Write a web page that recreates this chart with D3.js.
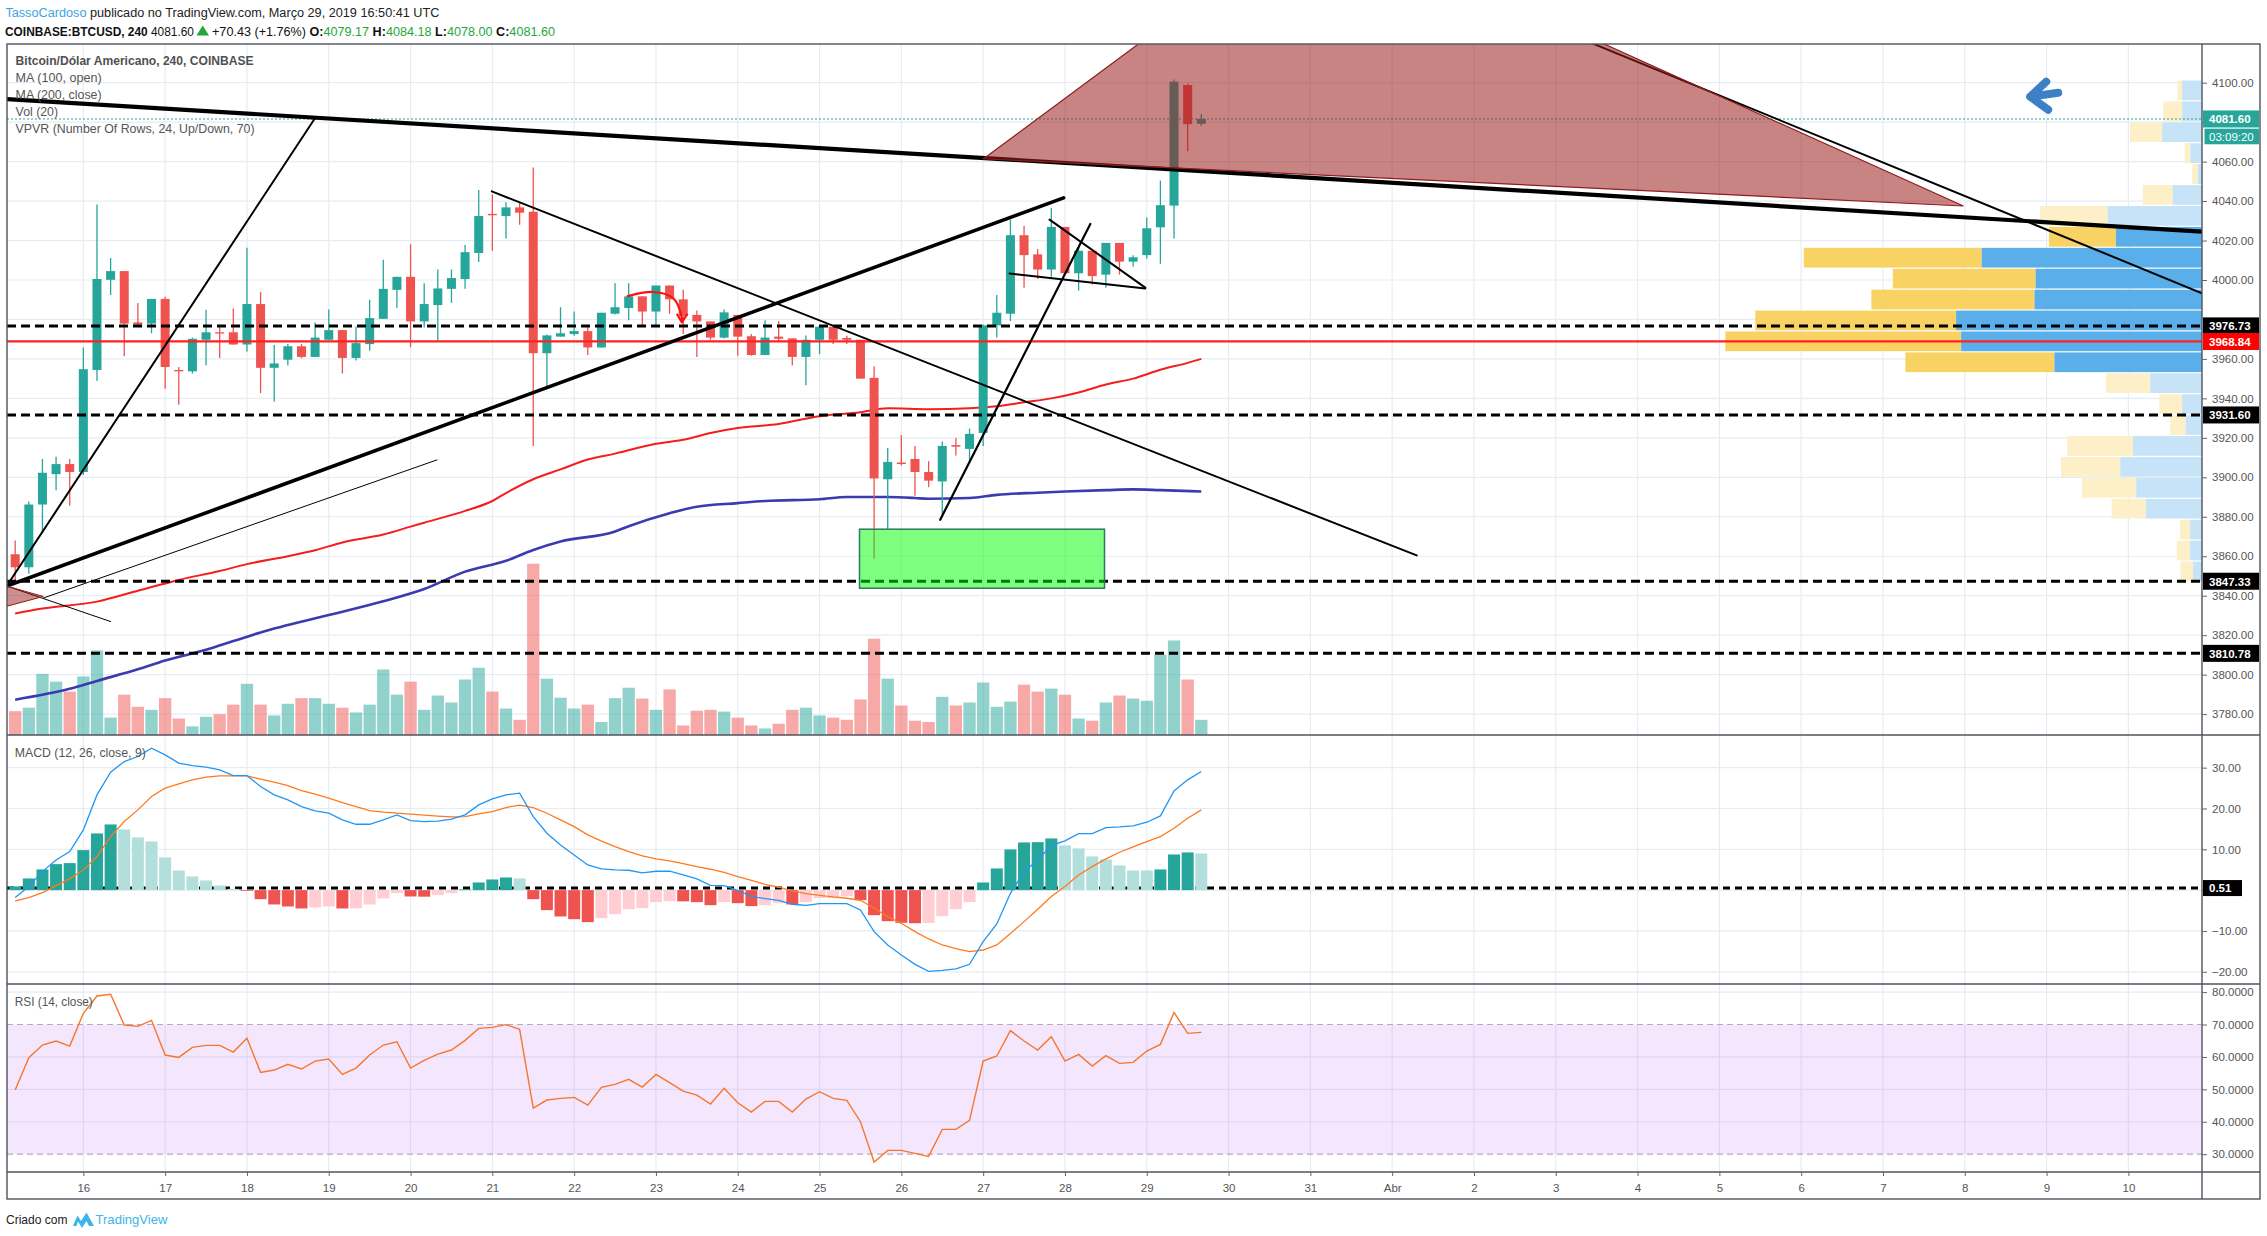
<!DOCTYPE html>
<html><head><meta charset="utf-8">
<script src="https://cdn.jsdelivr.net/npm/d3@7/dist/d3.min.js"></script>
<style>
html,body{margin:0;padding:0;background:#fff;overflow:hidden;}
svg{display:block;}
text{font-family:"Liberation Sans Narrow","Liberation Sans",Arial,sans-serif;}
.ax text{font-family:"Liberation Sans",Arial,sans-serif;}
</style></head><body>
<svg id="chart" width="2267" height="1236"></svg>
<script>
// ---------------- DATA ----------------
const candleOpen = [3861.0,3854.4,3886.2,3901.6,3906.7,3902.7,3954.4,4000.1,4004.5,3978.5,
3977.9,3990.4,3954.4,3953.7,3969.7,3973.5,3973.5,3967.3,3987.8,3955.5,
3959.6,3966.4,3961.0,3969.7,3974.6,3960.5,3967.5,3980.3,3995.0,4001.6,
3979.0,3987.3,3995.5,4000.5,4013.7,4033.5,4032.4,4036.8,4034.6,3962.9,
3971.3,3972.6,3974.1,3965.8,3982.9,3985.8,3991.7,3984.0,3997.2,3990.2,
3982.3,3979.0,3970.8,3982.3,3971.5,3962.0,3971.3,3970.4,3961.0,3969.7,
3976.3,3970.6,3969.7,3950.4,3899.0,3907.5,3909.3,3902.7,3897.9,3916.3,
3914.4,3922.5,3977.0,3982.9,4022.7,4013.0,4005.3,4026.9,4003.4,4014.8,
4002.7,4018.8,4009.3,4012.6,4026.7,4037.7,4098.8,4079.17];
const candleHigh = [3868.0,3887.8,3909.3,3910.4,3909.3,3965.8,4038.3,4011.1,4004.5,3988.4,
3990.4,3991.5,3955.9,3970.8,3984.9,3977.0,3985.6,4016.3,3993.9,3967.1,
3967.5,3967.5,3978.5,3985.1,3974.6,3976.3,3990.0,4010.2,4001.6,4018.1,
3998.3,4005.3,4005.3,4017.7,4045.6,4043.4,4039.4,4039.0,4057.0,3972.4,
3986.2,3984.0,3976.3,3983.4,3998.3,3998.3,3991.7,3997.2,3997.2,3995.0,
3984.5,3979.0,3985.1,3982.3,3972.6,3979.6,3979.2,3970.4,3971.9,3976.3,
3977.0,3971.7,3969.7,3956.3,3914.8,3921.4,3915.9,3908.2,3918.1,3919.9,
3924.7,3977.4,3992.4,4030.6,4027.3,4015.7,4036.6,4026.9,4017.0,4014.8,
4018.8,4018.8,4012.6,4031.7,4050.4,4101.6,4099.4,4084.18];
const candleLow = [3847.8,3851.1,3871.9,3893.5,3885.6,3901.2,3948.9,3992.4,3961.4,3977.0,
3973.0,3944.9,3936.8,3952.6,3956.6,3960.5,3967.3,3963.8,3942.7,3938.3,
3956.6,3960.3,3961.0,3969.7,3952.6,3959.2,3964.2,3980.3,3985.8,3966.0,
3975.9,3969.1,3988.4,3995.5,4009.1,4014.8,4021.0,4028.0,3915.9,3946.2,
3971.3,3971.7,3962.0,3965.8,3982.5,3979.6,3976.3,3977.0,3982.9,3972.6,
3961.0,3969.7,3970.4,3961.6,3961.6,3962.0,3969.1,3956.6,3946.7,3962.5,
3967.5,3967.5,3950.0,3858.8,3873.5,3906.0,3890.6,3895.0,3881.2,3911.1,
3908.2,3915.9,3970.8,3979.2,3996.1,4000.5,4001.6,4002.7,3994.6,3997.7,
3996.1,4002.7,4006.7,4010.8,4008.2,4021.0,4065.3,4078.00];
const candleClose = [3854.4,3886.2,3902.3,3906.7,3902.7,3954.8,4000.5,4004.5,3977.9,3977.4,
3990.4,3955.9,3953.7,3970.2,3973.5,3973.0,3967.3,3987.8,3955.5,3957.7,
3966.4,3961.0,3970.8,3974.6,3960.5,3968.0,3980.7,3995.5,4001.6,3979.0,
3987.8,3995.7,4001.0,4014.1,4032.4,4032.8,4036.8,4034.1,3962.9,3971.9,
3973.0,3974.1,3965.8,3983.4,3986.2,3991.7,3984.0,3997.2,3990.2,3981.8,
3979.0,3970.8,3983.6,3971.3,3962.0,3970.8,3970.2,3961.0,3969.7,3976.3,
3969.7,3969.7,3950.0,3899.4,3907.8,3906.7,3902.7,3898.3,3915.9,3915.5,
3922.0,3977.0,3983.4,4022.7,4012.6,4005.3,4026.9,4003.4,4014.8,4002.0,
4018.8,4009.3,4011.5,4026.2,4037.9,4100.5,4079.0,4081.60];
const volume = [550,630,1410,1230,1000,1350,1950,400,930,650,
580,850,380,200,420,480,700,1180,700,450,
720,850,850,720,630,520,700,1510,930,1230,
580,910,750,1280,1550,1000,610,350,3950,1300,
860,610,700,300,850,1090,840,580,1050,220,
560,580,540,400,220,150,260,580,630,450,
400,350,820,2220,1300,680,330,300,880,680,
750,1210,650,770,1160,1000,1070,930,380,330,
750,910,840,790,1850,2180,1280,350];

const ma100Idx = [0,2,6,9,12,15,17,20,22,24,27,29,30,33,35,36,38,40,42,44,47,49,51,53,56,59,62,64,67,70,72,74,76,78,80,82,84,86,87];
const ma100Val = [3831,3833.5,3837,3842.5,3848,3852.5,3856,3860,3863,3867,3871,3875,3877,3883,3888,3892,3899,3904,3909,3912,3917,3919,3922.5,3925,3927,3931,3933,3935,3934.5,3935,3936,3938,3940,3943,3947,3950,3954.5,3958,3960];
const ma200Idx = [0,4,6,9,11,14,16,18,23,27,30,33,36,38,40,44,45,48,50,53,55,59,61,64,66,67,70,72,75,77,80,82,84,87];
const ma200Val = [3787.3,3792.8,3796.8,3802.7,3807.1,3812.6,3817.0,3821.4,3830.2,3837.2,3843.4,3852.2,3857.7,3863.2,3867.5,3872.5,3875.2,3881.8,3885.1,3886.9,3888.0,3888.9,3890.0,3890.0,3889.5,3889.1,3889.5,3891.1,3892.2,3892.8,3893.5,3893.9,3893.5,3892.8];

const macdLine = [-1.83,0.87,4.54,7.40,9.45,14.76,23.33,28.89,31.5,32.73,
34.77,33.14,31.1,30.52,30.12,29.46,28.07,28.07,25.38,23.33,
22.11,20.47,19.41,18.84,17.21,16.14,16.14,17.21,18.43,17.04,
16.8,16.88,17.37,18.43,20.88,22.35,23.33,23.74,18.02,13.94,
11.08,8.63,6.18,5.2,4.95,4.87,4.22,4.63,4.63,3.73,
2.75,1.19,1.11,-0.03,-1.58,-2.07,-2.48,-3.46,-3.71,-3.3,
-3.3,-3.3,-4.85,-10.16,-13.43,-15.88,-18.17,-19.88,-19.64,-19.31,
-18.17,-12.61,-8.28,-0.77,4.54,7.40,10.92,12.06,13.86,13.86,
15.33,15.49,15.74,16.63,18.19,24.31,27.01,29.05];
const signalLine = [-2.65,-1.83,-0.6,1.11,2.75,4.95,8.22,13.12,16.8,19.66,
22.93,24.97,26.03,27.01,27.66,27.99,27.99,27.99,27.17,26.44,
25.62,24.40,23.5,22.52,21.46,20.47,19.49,19.09,18.84,18.6,
18.35,18.11,17.94,18.02,18.68,19.25,20.23,20.8,20.23,18.84,
17.21,15.57,13.53,12.0,10.67,9.45,8.38,7.65,7.16,6.5,
5.77,5.12,4.38,3.32,2.42,1.44,0.71,-0.2,-0.85,-1.26,
-1.67,-1.99,-2.48,-4.44,-6.49,-8.12,-10.16,-11.96,-13.43,-14.33,
-15.06,-14.66,-13.43,-10.65,-7.71,-4.69,-1.58,0.87,3.73,5.77,
7.65,9.28,10.59,11.9,13.12,15.16,17.61,19.66];
const macdHist = [0.9,2.86,5.07,6.37,6.62,9.80,13.89,16.09,14.87,12.91,
11.93,8.01,4.82,3.35,2.37,1.14,0.3,-0.2,-2.21,-3.51,
-4.0,-4.49,-4.25,-4.0,-4.49,-4.45,-3.51,-2.04,-0.74,-1.55,
-1.6,-1.23,-0.74,0.2,1.88,2.61,3.10,2.86,-2.21,-4.90,
-6.45,-7.11,-7.84,-6.86,-5.88,-4.66,-4.41,-2.94,-2.70,-2.75,
-2.94,-3.68,-2.94,-3.19,-3.92,-3.68,-3.19,-3.51,-2.94,-1.96,
-1.96,-1.47,-2.45,-6.13,-7.60,-8.0,-8.1,-8.05,-6.37,-4.66,
-2.94,1.88,5.31,9.97,11.68,11.75,12.66,10.95,10.21,8.25,
7.52,6.05,4.82,4.82,5.07,8.74,9.23,8.99];
const rsiLine = [49.8,59.76,63.67,64.9,63.36,73.45,78.8,79.31,69.84,69.43,
71.28,60.58,59.86,62.95,63.57,63.57,61.51,65.73,55.24,55.96,
57.71,56.27,58.73,59.35,54.62,56.57,60.58,63.67,64.7,56.57,
58.94,60.89,62.13,65.11,68.81,69.12,69.95,68.51,44.23,46.7,
47.21,47.52,45.15,50.6,51.53,53.08,50.71,54.62,52.05,49.47,
48.24,45.46,50.3,45.87,42.99,46.28,46.28,42.99,47.0,49.27,
47.21,46.59,40.01,27.56,31.16,31.16,30.24,29.31,37.64,37.64,
40.42,58.73,60.28,68.1,64.9,62.13,66.24,58.73,60.79,57.19,
60.38,58.01,58.32,61.82,63.87,73.75,67.27,67.58];

// Volume profile (rows from top price down), up / down volume
const vpUp   = [199,199,398,116,40,293,944,861,2203,1664,1675,2459,2409,1476,517,199,163,691,817,658,561,119,119,90];
const vpDown = [47,188,322,58,58,300,676,669,1779,1428,1631,2008,2358,1490,445,228,155,658,593,543,343,102,134,127];
const vpValueArea = [0,0,0,0,0,0,0,1,1,1,1,1,1,1,0,0,0,0,0,0,0,0,0,0];
const vpHigh = 4101.4, vpLow = 3847.0;

const priceTicks = [3780,3800,3820,3840,3860,3880,3900,3920,3940,3960,3980,4000,4020,4040,4060,4080,4100];
const macdTicks = [-20,-10,0,10,20,30];
const rsiTicks = [30,40,50,60,70,80];
const dayLabels = ["16","17","18","19","20","21","22","23","24","25","26","27","28","29","30","31","Abr","2","3","4","5","6","7","8","9","10"];
const firstDayCandle = 5, candlesPerDay = 6;

const hLevels = [3976.73, 3931.60, 3847.33, 3810.78];
const pocPrice = 3968.84;
const lastPrice = 4081.60;
const macdLevel = 0.51;

// user drawings: [candle index, price]
const trendLines = [
  {a:[-0.62,4091.7], b:[160.4,4024.5], w:4.2},
  {a:[-0.62,3844.9], b:[22.0,4082.1], w:2},
  {a:[-0.62,3844.9], b:[76.9,4041.6], w:3.6},
  {a:[2.06,3838.8],  b:[30.93,3908.8], w:1},
  {a:[-0.62,3844.9], b:[7.0,3826.9], w:1},
  {a:[34.96,4044.9], b:[102.8,3860.4], w:2},
  {a:[67.85,3878.5], b:[78.86,4028.4], w:2.2},
  {a:[75.87,4030.6], b:[82.89,3996.1], w:2},
  {a:[72.94,4003.3], b:[82.89,3995.7], w:2},
  {a:[110.0,4136.0], b:[160.4,3993.3], w:2}
];
const bigTriangle = [[71.03,4061.4],[95.3,4185.8],[142.9,4037.5]];
const smallTriangle = [[-1.5,3846.6],[-1.5,3833.0],[2.06,3839.6]];
const greenBox = {i0:61.93, p0:3873.7, i1:79.9, p1:3843.8};
const curvedArrow = [[44.87,3991.7],[46.82,3993.9],[48.29,3990.6],[48.9,3980.7],[48.9,3978.5]];
const arrowWings = [[48.53,3982.9],[48.9,3978.5],[49.31,3982.9]];
const blueArrowAnchor = [147.8, 4092.9];

// ---------------- LAYOUT ----------------
const W=2267, H=1236;
const L=7, R=2202, RB=2260, T=44, MB=735, MACDB=984, RSIB=1172, B=1199;

const x = d3.scaleLinear().domain([-0.6,160.4]).range([L,R]);
const yMain = d3.scaleLinear().domain([3769.4,4119.6]).range([MB,T]);
const yVol = d3.scaleLinear().domain([0,3950]).range([MB,MB-171.3]);
const yMacd = d3.scaleLinear().domain([-22.99,38.0]).range([MACDB,MB]);
const yRsi = d3.scaleLinear().domain([24.5,82.5]).range([RSIB,MACDB]);
const vpX = d3.scaleLinear().domain([0,4767]).range([0,476.7]);

const svg = d3.select("#chart");
svg.append("rect").attr("width",W).attr("height",H).attr("fill","#fff");
const defs = svg.append("defs");
defs.append("clipPath").attr("id","cMain").append("rect").attr("x",L).attr("y",T).attr("width",R-L).attr("height",MB-T);
defs.append("clipPath").attr("id","cMacd").append("rect").attr("x",L).attr("y",MB).attr("width",R-L).attr("height",MACDB-MB);
defs.append("clipPath").attr("id","cRsi").append("rect").attr("x",L).attr("y",MACDB).attr("width",R-L).attr("height",RSIB-MACDB);

const gridColor = "#e6edf2";
const dayIdx = dayLabels.map((d,i)=>firstDayCandle + i*candlesPerDay);

// ---- grid
const grid = svg.append("g");
grid.selectAll(".vg").data(dayIdx).join("line")
  .attr("x1",d=>x(d)).attr("x2",d=>x(d)).attr("y1",T).attr("y2",RSIB)
  .attr("stroke",gridColor).attr("stroke-width",1.2);
grid.selectAll(".hg").data(priceTicks).join("line")
  .attr("x1",L).attr("x2",R).attr("y1",d=>yMain(d)).attr("y2",d=>yMain(d))
  .attr("stroke",gridColor).attr("stroke-width",1.2);
grid.selectAll(".mg").data(macdTicks).join("line")
  .attr("x1",L).attr("x2",R).attr("y1",d=>yMacd(d)).attr("y2",d=>yMacd(d))
  .attr("stroke",gridColor).attr("stroke-width",1.2);
grid.selectAll(".rg").data([40,50,60,80]).join("line")
  .attr("x1",L).attr("x2",R).attr("y1",d=>yRsi(d)).attr("y2",d=>yRsi(d))
  .attr("stroke",gridColor).attr("stroke-width",1.2);

// ---- main pane
const main = svg.append("g").attr("clip-path","url(#cMain)");
const idx = d3.range(candleOpen.length);

// volume
main.selectAll(".vol").data(idx).join("rect")
  .attr("x",i=>x(i)-6.15).attr("width",12.3)
  .attr("y",i=>yVol(volume[i])).attr("height",i=>MB-yVol(volume[i]))
  .attr("fill",i=>candleClose[i]>=candleOpen[i]?"rgba(38,166,154,0.5)":"rgba(239,83,80,0.5)");

// moving averages
const maLine = d3.line().x(d=>x(d[0])).y(d=>yMain(d[1])).curve(d3.curveMonotoneX);
main.append("path").datum(ma200Idx.map((d,i)=>[d,ma200Val[i]]))
  .attr("d",maLine).attr("fill","none").attr("stroke","#3b3bb0").attr("stroke-width",2.6);
main.append("path").datum(ma100Idx.map((d,i)=>[d,ma100Val[i]]))
  .attr("d",maLine).attr("fill","none").attr("stroke","#f51d1d").attr("stroke-width",2);

// candles
const up="#26a69a", dn="#ef5350";
main.selectAll(".wick").data(idx).join("line")
  .attr("x1",i=>x(i)).attr("x2",i=>x(i))
  .attr("y1",i=>yMain(candleHigh[i])).attr("y2",i=>yMain(candleLow[i]))
  .attr("stroke",i=>candleClose[i]>=candleOpen[i]?up:dn).attr("stroke-width",1.3);
main.selectAll(".body").data(idx).join("rect")
  .attr("x",i=>x(i)-4.5).attr("width",9)
  .attr("y",i=>yMain(Math.max(candleOpen[i],candleClose[i])))
  .attr("height",i=>Math.max(1.3,Math.abs(yMain(candleOpen[i])-yMain(candleClose[i]))))
  .attr("fill",i=>candleClose[i]>=candleOpen[i]?up:dn);

// volume profile
const vpStep = (vpHigh-vpLow)/vpUp.length;
const vp = main.append("g");
vpUp.forEach((u,i)=>{
  const top = yMain(vpHigh - i*vpStep)+0.6, bot = yMain(vpHigh-(i+1)*vpStep)-0.6;
  const va = vpValueArea[i]===1;
  vp.append("rect").attr("x",R-vpX(u+vpDown[i])).attr("width",vpX(vpDown[i]))
    .attr("y",top).attr("height",bot-top).attr("fill",va?"#f9d264":"#fdf0c9");
  vp.append("rect").attr("x",R-vpX(u)).attr("width",vpX(u))
    .attr("y",top).attr("height",bot-top).attr("fill",va?"#5aaeea":"#c6e3f7");
});

// current price dotted line
main.append("line").attr("x1",L).attr("x2",R).attr("y1",yMain(lastPrice)).attr("y2",yMain(lastPrice))
  .attr("stroke","#26a69a").attr("stroke-width",1).attr("stroke-dasharray","2,2");

// POC line
main.append("line").attr("x1",L).attr("x2",R).attr("y1",yMain(pocPrice)).attr("y2",yMain(pocPrice))
  .attr("stroke","#ff2020").attr("stroke-width",2.2);

// horizontal dashed levels
main.selectAll(".lvl").data(hLevels).join("line")
  .attr("x1",L).attr("x2",R).attr("y1",d=>yMain(d)).attr("y2",d=>yMain(d))
  .attr("stroke","#000").attr("stroke-width",3).attr("stroke-dasharray","9,5");

// trend lines
main.selectAll(".tl").data(trendLines).join("line")
  .attr("x1",d=>x(d.a[0])).attr("y1",d=>yMain(d.a[1]))
  .attr("x2",d=>x(d.b[0])).attr("y2",d=>yMain(d.b[1]))
  .attr("stroke","#000").attr("stroke-width",d=>d.w).attr("stroke-linecap","round");

// triangles
const poly = pts => "M" + pts.map(p=>x(p[0])+","+yMain(p[1])).join("L") + "Z";
main.append("path").attr("d",poly(bigTriangle)).attr("fill","rgba(155,30,30,0.55)")
  .attr("stroke","#8e1d1d").attr("stroke-width",1.2);
main.append("path").attr("d",poly(smallTriangle)).attr("fill","rgba(155,30,30,0.5)")
  .attr("stroke","#8e1d1d").attr("stroke-width",1);

// green box
main.append("rect").attr("x",x(greenBox.i0)).attr("y",yMain(greenBox.p0))
  .attr("width",x(greenBox.i1)-x(greenBox.i0)).attr("height",yMain(greenBox.p1)-yMain(greenBox.p0))
  .attr("fill","rgba(0,255,0,0.5)").attr("stroke","#2b7a63").attr("stroke-width",1.5);

// curved red arrow
main.append("path").datum(curvedArrow)
  .attr("d",d3.line().x(d=>x(d[0])).y(d=>yMain(d[1])).curve(d3.curveCatmullRom))
  .attr("fill","none").attr("stroke","#ff1010").attr("stroke-width",2.2);
main.append("path").datum(arrowWings)
  .attr("d",d3.line().x(d=>x(d[0])).y(d=>yMain(d[1])))
  .attr("fill","none").attr("stroke","#ff1010").attr("stroke-width",2.2).attr("stroke-linejoin","round");

// blue arrow icon
main.append("path")
  .attr("transform",`translate(${x(blueArrowAnchor[0])},${yMain(blueArrowAnchor[1])})`)
  .attr("d","M16,-15 L0,0 L18,13 M0,0 L28,-4")
  .attr("fill","none").attr("stroke","#3d80c6").attr("stroke-width",8)
  .attr("stroke-linecap","round").attr("stroke-linejoin","round");

// ---- MACD pane
const mp = svg.append("g").attr("clip-path","url(#cMacd)");
mp.append("line").attr("x1",L).attr("x2",R).attr("y1",yMacd(macdLevel)).attr("y2",yMacd(macdLevel))
  .attr("stroke","#000").attr("stroke-width",3).attr("stroke-dasharray","7,5");
mp.selectAll(".hist").data(idx).join("rect")
  .attr("x",i=>x(i)-6).attr("width",12)
  .attr("y",i=>Math.min(yMacd(0),yMacd(macdHist[i])))
  .attr("height",i=>Math.abs(yMacd(0)-yMacd(macdHist[i])))
  .attr("fill",i=>{
    const v=macdHist[i], p=i>0?macdHist[i-1]:v-1;
    if(v>=0) return v>p?"#26a69a":"#b2dfdb";
    return v<p?"#ef5350":"#ffcdd2";
  });
const mLine = d3.line().x((d,i)=>x(i)).y(d=>yMacd(d));
mp.append("path").datum(signalLine).attr("d",mLine).attr("fill","none").attr("stroke","#ff7a1e").attr("stroke-width",1.3);
mp.append("path").datum(macdLine).attr("d",mLine).attr("fill","none").attr("stroke","#2196f3").attr("stroke-width",1.3);

// ---- RSI pane
const rp = svg.append("g").attr("clip-path","url(#cRsi)");
rp.append("rect").attr("x",L).attr("width",R-L).attr("y",yRsi(70)).attr("height",yRsi(30)-yRsi(70))
  .attr("fill","rgba(155,39,235,0.11)");
rp.selectAll(".band").data([70,30]).join("line")
  .attr("x1",L).attr("x2",R).attr("y1",d=>yRsi(d)).attr("y2",d=>yRsi(d))
  .attr("stroke","#b9a9b9").attr("stroke-width",1.2).attr("stroke-dasharray","6,4");
rp.append("path").datum(rsiLine).attr("d",d3.line().x((d,i)=>x(i)).y(d=>yRsi(d)))
  .attr("fill","none").attr("stroke","#f7762d").attr("stroke-width",1.4);

// ---- frames
const frame = svg.append("g").attr("stroke","#50535e").attr("stroke-width",1.4).attr("fill","none");
frame.append("rect").attr("x",L).attr("y",T).attr("width",RB-L).attr("height",B-T);
[MB,MACDB,RSIB].forEach(yy=>frame.append("line").attr("x1",L).attr("x2",RB).attr("y1",yy).attr("y2",yy));
frame.append("line").attr("x1",R).attr("x2",R).attr("y1",T).attr("y2",B);

// ---- axes (tick labels hidden where an axis price tag covers them)
const tagYMain = hLevels.concat([pocPrice,lastPrice]).map(p=>yMain(p));
const tagYMacd = [yMacd(macdLevel)];
function styleAxis(g, scale, tagYs){
  g.select(".domain").remove();
  g.selectAll(".tick line").attr("stroke","#666");
  g.selectAll(".tick text").attr("fill","#555").attr("font-size",11.5);
  if(tagYs){
    g.selectAll(".tick text").filter(d=>tagYs.some(t=>Math.abs(scale(d)-t)<10)).remove();
  }
}
svg.append("g").attr("class","ax").attr("transform",`translate(${R},0)`)
  .call(d3.axisRight(yMain).tickValues(priceTicks).tickFormat(d3.format(".2f")).tickSize(5).tickPadding(5))
  .call(g=>styleAxis(g,yMain,tagYMain));
svg.append("g").attr("class","ax").attr("transform",`translate(${R},0)`)
  .call(d3.axisRight(yMacd).tickValues(macdTicks).tickFormat(d3.format(".2f")).tickSize(5).tickPadding(5))
  .call(g=>styleAxis(g,yMacd,tagYMacd));
svg.append("g").attr("class","ax").attr("transform",`translate(${R},0)`)
  .call(d3.axisRight(yRsi).tickValues(rsiTicks).tickFormat(d3.format(".4f")).tickSize(5).tickPadding(5))
  .call(g=>styleAxis(g,yRsi,null));
svg.append("g").attr("class","ax").attr("transform",`translate(0,${RSIB})`)
  .call(d3.axisBottom(x).tickValues(dayIdx).tickFormat((d,i)=>dayLabels[i]).tickSize(4).tickPadding(8))
  .call(g=>styleAxis(g,x,null));

// ---- price labels on axis
function tag(yy,txt,bg,bold,x0,x1,h){
  const gg=svg.append("g");
  gg.append("rect").attr("x",x0||R+1).attr("y",yy-(h||17)/2).attr("width",(x1||RB-1)-(x0||R+1)).attr("height",h||17).attr("fill",bg);
  gg.append("text").attr("class","ax").attr("x",R+7).attr("y",yy+4.3).attr("fill","#fff")
    .attr("font-size",11.5).attr("font-weight",bold?"bold":"normal")
    .attr("font-family","'Liberation Sans',Arial,sans-serif").text(txt);
}
hLevels.forEach(p=>tag(yMain(p),d3.format(".2f")(p),"#000",true));
tag(yMain(pocPrice),d3.format(".2f")(pocPrice),"#ff0000",true);
tag(yMain(lastPrice),d3.format(".2f")(lastPrice),"#26a69a",true);
tag(yMain(lastPrice)+17.5,"03:09:20","#26a69a",false,R+2.5,RB-1,15.6);
tag(yMacd(macdLevel),d3.format(".2f")(macdLevel),"#000",true,R+1,R+40,16);

// ---- texts
function txt(xx,yy,s,opt){
  const t=svg.append("text").attr("x",xx).attr("y",yy).text(s)
    .attr("font-size",opt.size||13).attr("fill",opt.fill||"#555");
  if(opt.bold) t.attr("font-weight","bold");
  if(opt.len) t.attr("textLength",opt.len).attr("lengthAdjust","spacingAndGlyphs");
  return t;
}
// header line 1
const h1 = svg.append("text").attr("x",5.4).attr("y",16.6).attr("font-size",12)
  .attr("textLength",434).attr("lengthAdjust","spacingAndGlyphs");
h1.append("tspan").attr("fill","#3ba3e6").text("TassoCardoso");
h1.append("tspan").attr("fill","#222").text(" publicado no TradingView.com, Março 29, 2019 16:50:41 UTC");
// header line 2
const green="#21a83a";
const h2a = svg.append("text").attr("x",5).attr("y",36.2).attr("font-size",12)
  .attr("textLength",189).attr("lengthAdjust","spacingAndGlyphs").attr("fill","#111");
h2a.append("tspan").attr("font-weight","bold").text("COINBASE:BTCUSD, 240 ");
h2a.append("tspan").text("4081.60");
svg.append("path").attr("d","M196.5,35.5 L202.7,25.5 L209,35.5 Z").attr("fill",green);
const h2b = svg.append("text").attr("x",212).attr("y",36.2).attr("font-size",12)
  .attr("textLength",343).attr("lengthAdjust","spacingAndGlyphs").attr("fill","#111");
[["+70.43 (+1.76%) ","#111",false],
 ["O:","#111",true],["4079.17 ",green,false],["H:","#111",true],["4084.18 ",green,false],
 ["L:","#111",true],["4078.00 ",green,false],["C:","#111",true],["4081.60",green,false]]
 .forEach(s=>{const t=h2b.append("tspan").attr("fill",s[1]).text(s[0]); if(s[2]) t.attr("font-weight","bold");});

// legends
txt(15.6,65.2,"Bitcoin/Dólar Americano, 240, COINBASE",{size:13,bold:true,fill:"#505050",len:238});
txt(15.6,82.4,"MA (100, open)",{size:13,fill:"#555",len:86});
txt(15.6,99.4,"MA (200, close)",{size:13,fill:"#555",len:86});
txt(15.6,116.2,"Vol (20)",{size:13,fill:"#555",len:42.5});
txt(15.6,133.2,"VPVR (Number Of Rows, 24, Up/Down, 70)",{size:13,fill:"#555",len:239});
txt(14.8,756.8,"MACD (12, 26, close, 9)",{size:13,fill:"#555",len:131});
txt(14.8,1006.3,"RSI (14, close)",{size:13,fill:"#555",len:78});

// footer
txt(6,1223.8,"Criado com",{size:13,fill:"#222",len:61.5});
svg.append("path").attr("d","M73,1226 L77.5,1215.5 L81,1221 L86.5,1212.5 L94,1226 L89,1226 L86.5,1221 L82,1228 L78,1221.5 L76.5,1226 Z")
  .attr("fill","#3db5e8");
txt(95.5,1223.8,"TradingView",{size:13,fill:"#3db5e8",len:72});
</script>
</body></html>
